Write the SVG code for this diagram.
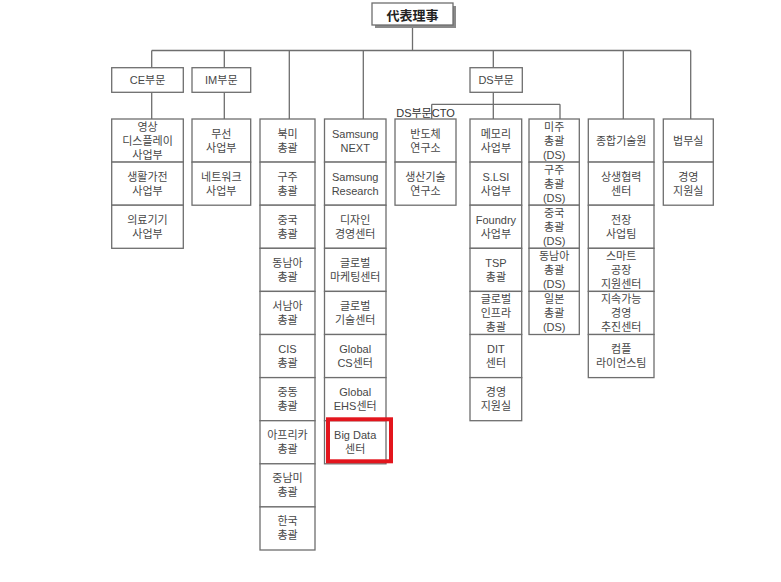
<svg xmlns="http://www.w3.org/2000/svg" width="781" height="582" viewBox="0 0 781 582">
<style>
.bg{fill:#ffffff}
.box{fill:#ffffff;stroke:#6e6e6e;stroke-width:1.3}
.ln{fill:none;stroke:#6e6e6e;stroke-width:1.3}
.t{font-family:"Liberation Sans","Noto Sans CJK KR",sans-serif;font-size:11px;fill:#474747;text-anchor:middle;dominant-baseline:central}
.top{font-family:"Noto Sans CJK KR","Noto Sans CJK SC",sans-serif;font-size:13px;font-weight:bold;fill:#222;text-anchor:middle;dominant-baseline:central}
.hl{fill:none;stroke:#e3151d;stroke-width:4}
</style>
<rect class="bg" x="0" y="0" width="781" height="582"/>
<g id="connectors">
<path class="ln" d="M412.5 25 V50.5 M151.7 50.5 H690.7 M151.7 50.5 V67.7 M224.3 50.5 V67.7 M289.3 50.5 V119 M363.3 50.5 V119 M493.3 50.5 V67.7 M623.3 50.5 V119 M690.7 50.5 V119 M151.7 92.3 V119 M224.3 92.3 V119 M493.3 92.3 V104.3 M431.7 104.3 H560 M431.7 104.3 V119 M493.3 104.3 V119 M560 104.3 V119"/>
</g>
<g id="ceo">
<rect x="375" y="6" width="81" height="22" fill="#8a8a8a"/>
<rect class="box" x="372" y="3" width="81" height="22"/>
<text class="top" x="412.5" y="14.5">代表理事</text>
</g>
<g id="ce">
<rect class="box" x="111.7" y="67.7" width="71.6" height="24.6"/>
<text class="t" x="147.5" y="80">CE부문</text>
</g>
<g id="im">
<rect class="box" x="192" y="67.7" width="58.7" height="24.6"/>
<text class="t" x="221.3" y="80">IM부문</text>
</g>
<g id="ds">
<rect class="box" x="470" y="67.7" width="52.3" height="24.6"/>
<text class="t" x="496.2" y="80">DS부문</text>
</g>
<g id="ds-cto-label">
<text class="t" x="425.5" y="112.5" style="fill:#333">DS부문CTO</text>
</g>
<g id="ce-col">
<rect class="box" x="111.7" y="119" width="71.6" height="43.1"/>
<text class="t" x="147.5"><tspan x="147.5" y="126.5">영상</tspan><tspan x="147.5" y="140.5">디스플레이</tspan><tspan x="147.5" y="154.5">사업부</tspan></text>
<rect class="box" x="111.7" y="162.1" width="71.6" height="43.1"/>
<text class="t"><tspan x="147.5" y="176.6">생활가전</tspan><tspan x="147.5" y="190.6">사업부</tspan></text>
<rect class="box" x="111.7" y="205.2" width="71.6" height="43.1"/>
<text class="t"><tspan x="147.5" y="219.7">의료기기</tspan><tspan x="147.5" y="233.7">사업부</tspan></text>
</g>
<g id="im-col">
<rect class="box" x="192" y="119" width="58.7" height="43.1"/>
<text class="t"><tspan x="221.3" y="133.5">무선</tspan><tspan x="221.3" y="147.5">사업부</tspan></text>
<rect class="box" x="192" y="162.1" width="58.7" height="43.1"/>
<text class="t"><tspan x="221.3" y="176.6">네트워크</tspan><tspan x="221.3" y="190.6">사업부</tspan></text>
</g>
<g id="region-col">
<rect class="box" x="260" y="119" width="55" height="43.1"/>
<text class="t"><tspan x="287.5" y="133.5">북미</tspan><tspan x="287.5" y="147.5">총괄</tspan></text>
<rect class="box" x="260" y="162.1" width="55" height="43.1"/>
<text class="t"><tspan x="287.5" y="176.6">구주</tspan><tspan x="287.5" y="190.6">총괄</tspan></text>
<rect class="box" x="260" y="205.2" width="55" height="43.1"/>
<text class="t"><tspan x="287.5" y="219.7">중국</tspan><tspan x="287.5" y="233.7">총괄</tspan></text>
<rect class="box" x="260" y="248.3" width="55" height="43.1"/>
<text class="t"><tspan x="287.5" y="262.8">동남아</tspan><tspan x="287.5" y="276.8">총괄</tspan></text>
<rect class="box" x="260" y="291.4" width="55" height="43.1"/>
<text class="t"><tspan x="287.5" y="305.9">서남아</tspan><tspan x="287.5" y="319.9">총괄</tspan></text>
<rect class="box" x="260" y="334.5" width="55" height="43.1"/>
<text class="t"><tspan x="287.5" y="349">CIS</tspan><tspan x="287.5" y="363">총괄</tspan></text>
<rect class="box" x="260" y="377.6" width="55" height="43.1"/>
<text class="t"><tspan x="287.5" y="392.1">중동</tspan><tspan x="287.5" y="406.1">총괄</tspan></text>
<rect class="box" x="260" y="420.7" width="55" height="43.1"/>
<text class="t"><tspan x="287.5" y="435.2">아프리카</tspan><tspan x="287.5" y="449.2">총괄</tspan></text>
<rect class="box" x="260" y="463.8" width="55" height="43.1"/>
<text class="t"><tspan x="287.5" y="478.3">중남미</tspan><tspan x="287.5" y="492.3">총괄</tspan></text>
<rect class="box" x="260" y="506.9" width="55" height="43.1"/>
<text class="t"><tspan x="287.5" y="521.4">한국</tspan><tspan x="287.5" y="535.4">총괄</tspan></text>
</g>
<g id="samsung-col">
<rect class="box" x="324.5" y="119" width="61.5" height="43.1"/>
<text class="t"><tspan x="355.2" y="133.5">Samsung</tspan><tspan x="355.2" y="147.5">NEXT</tspan></text>
<rect class="box" x="324.5" y="162.1" width="61.5" height="43.1"/>
<text class="t"><tspan x="355.2" y="176.6">Samsung</tspan><tspan x="355.2" y="190.6">Research</tspan></text>
<rect class="box" x="324.5" y="205.2" width="61.5" height="43.1"/>
<text class="t"><tspan x="355.2" y="219.7">디자인</tspan><tspan x="355.2" y="233.7">경영센터</tspan></text>
<rect class="box" x="324.5" y="248.3" width="61.5" height="43.1"/>
<text class="t"><tspan x="355.2" y="262.8">글로벌</tspan><tspan x="355.2" y="276.8">마케팅센터</tspan></text>
<rect class="box" x="324.5" y="291.4" width="61.5" height="43.1"/>
<text class="t"><tspan x="355.2" y="305.9">글로벌</tspan><tspan x="355.2" y="319.9">기술센터</tspan></text>
<rect class="box" x="324.5" y="334.5" width="61.5" height="43.1"/>
<text class="t"><tspan x="355.2" y="349">Global</tspan><tspan x="355.2" y="363">CS센터</tspan></text>
<rect class="box" x="324.5" y="377.6" width="61.5" height="43.1"/>
<text class="t"><tspan x="355.2" y="392.1">Global</tspan><tspan x="355.2" y="406.1">EHS센터</tspan></text>
<rect class="box" x="324.5" y="420.7" width="61.5" height="43.1"/>
<text class="t"><tspan x="355.2" y="435.2">Big Data</tspan><tspan x="355.2" y="449.2">센터</tspan></text>
<rect class="hl" x="328" y="419.3" width="63" height="42"/>
</g>
<g id="ds-cto-col">
<rect class="box" x="395" y="119" width="61" height="43.1"/>
<text class="t"><tspan x="425.5" y="133.5">반도체</tspan><tspan x="425.5" y="147.5">연구소</tspan></text>
<rect class="box" x="395" y="162.1" width="61" height="43.1"/>
<text class="t"><tspan x="425.5" y="176.6">생산기술</tspan><tspan x="425.5" y="190.6">연구소</tspan></text>
</g>
<g id="memory-col">
<rect class="box" x="470" y="119" width="51.7" height="43.1"/>
<text class="t"><tspan x="495.9" y="133.5">메모리</tspan><tspan x="495.9" y="147.5">사업부</tspan></text>
<rect class="box" x="470" y="162.1" width="51.7" height="43.1"/>
<text class="t"><tspan x="495.9" y="176.6">S.LSI</tspan><tspan x="495.9" y="190.6">사업부</tspan></text>
<rect class="box" x="470" y="205.2" width="51.7" height="43.1"/>
<text class="t"><tspan x="495.9" y="219.7">Foundry</tspan><tspan x="495.9" y="233.7">사업부</tspan></text>
<rect class="box" x="470" y="248.3" width="51.7" height="43.1"/>
<text class="t"><tspan x="495.9" y="262.8">TSP</tspan><tspan x="495.9" y="276.8">총괄</tspan></text>
<rect class="box" x="470" y="291.4" width="51.7" height="43.1"/>
<text class="t"><tspan x="495.9" y="298.9">글로벌</tspan><tspan x="495.9" y="312.9">인프라</tspan><tspan x="495.9" y="326.9">총괄</tspan></text>
<rect class="box" x="470" y="334.5" width="51.7" height="43.1"/>
<text class="t"><tspan x="495.9" y="349">DIT</tspan><tspan x="495.9" y="363">센터</tspan></text>
<rect class="box" x="470" y="377.6" width="51.7" height="43.1"/>
<text class="t"><tspan x="495.9" y="392.1">경영</tspan><tspan x="495.9" y="406.1">지원실</tspan></text>
</g>
<g id="ds-region-col">
<rect class="box" x="529" y="119" width="50.3" height="43.1"/>
<text class="t"><tspan x="554.2" y="126.5">미주</tspan><tspan x="554.2" y="140.5">총괄</tspan><tspan x="554.2" y="154.5">(DS)</tspan></text>
<rect class="box" x="529" y="162.1" width="50.3" height="43.1"/>
<text class="t"><tspan x="554.2" y="169.6">구주</tspan><tspan x="554.2" y="183.6">총괄</tspan><tspan x="554.2" y="197.6">(DS)</tspan></text>
<rect class="box" x="529" y="205.2" width="50.3" height="43.1"/>
<text class="t"><tspan x="554.2" y="212.7">중국</tspan><tspan x="554.2" y="226.7">총괄</tspan><tspan x="554.2" y="240.7">(DS)</tspan></text>
<rect class="box" x="529" y="248.3" width="50.3" height="43.1"/>
<text class="t"><tspan x="554.2" y="255.8">동남아</tspan><tspan x="554.2" y="269.8">총괄</tspan><tspan x="554.2" y="283.8">(DS)</tspan></text>
<rect class="box" x="529" y="291.4" width="50.3" height="43.1"/>
<text class="t"><tspan x="554.2" y="298.9">일본</tspan><tspan x="554.2" y="312.9">총괄</tspan><tspan x="554.2" y="326.9">(DS)</tspan></text>
</g>
<g id="sait-col">
<rect class="box" x="588.3" y="119" width="65.7" height="43.1"/>
<text class="t" x="621.2" y="140.5">종합기술원</text>
<rect class="box" x="588.3" y="162.1" width="65.7" height="43.1"/>
<text class="t"><tspan x="621.2" y="176.6">상생협력</tspan><tspan x="621.2" y="190.6">센터</tspan></text>
<rect class="box" x="588.3" y="205.2" width="65.7" height="43.1"/>
<text class="t"><tspan x="621.2" y="219.7">전장</tspan><tspan x="621.2" y="233.7">사업팀</tspan></text>
<rect class="box" x="588.3" y="248.3" width="65.7" height="43.1"/>
<text class="t"><tspan x="621.2" y="255.8">스마트</tspan><tspan x="621.2" y="269.8">공장</tspan><tspan x="621.2" y="283.8">지원센터</tspan></text>
<rect class="box" x="588.3" y="291.4" width="65.7" height="43.1"/>
<text class="t"><tspan x="621.2" y="298.9">지속가능</tspan><tspan x="621.2" y="312.9">경영</tspan><tspan x="621.2" y="326.9">추진센터</tspan></text>
<rect class="box" x="588.3" y="334.5" width="65.7" height="43.1"/>
<text class="t"><tspan x="621.2" y="349">컴플</tspan><tspan x="621.2" y="363">라이언스팀</tspan></text>
</g>
<g id="legal-col">
<rect class="box" x="663.3" y="119" width="50" height="43.1"/>
<text class="t" x="688.3" y="140.5">법무실</text>
<rect class="box" x="663.3" y="162.1" width="50" height="43.1"/>
<text class="t"><tspan x="688.3" y="176.6">경영</tspan><tspan x="688.3" y="190.6">지원실</tspan></text>
</g>
</svg>
